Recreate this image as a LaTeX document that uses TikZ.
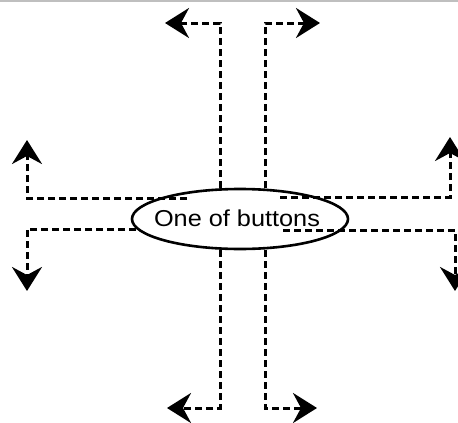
\documentclass[tikz,border=0pt]{standalone}
\usepackage{fontspec}
\setmainfont{Liberation Sans}
\usetikzlibrary{shapes.geometric,arrows.meta}
\begin{document}
\begin{tikzpicture}[x=1pt,y=-1pt,
  conn/.style={line width=3pt,dash pattern=on 7pt off 4pt,
    -{Stealth[length=24pt,width=30pt,inset=8pt]}},
  btn/.style={ellipse,draw,line width=2.6pt,minimum width=216pt,minimum height=60pt,inner sep=0pt,outer sep=0pt},
  lbl/.style={inner sep=0pt,font=\fontsize{23}{23}\selectfont}]
\useasboundingbox (0,0) rectangle (458,423);
\fill[black!25] (0,0) rectangle (458,2);
\node[btn] (b) at (240,219) {};
\node[lbl] (t) at (237,218) {\scalebox{1.1}[1]{One of buttons}};
% start points
\coordinate (tl0) at (220,188);
\coordinate (tr0) at (265,188);
\coordinate (bl0) at (220,250);
\coordinate (br0) at (265,250);
\coordinate (lu0) at (187,198);
\coordinate (ll0) at (136,229);
\coordinate (ru0) at (280,197);
\coordinate (rl0) at (283,230);
% corners
\coordinate (tl1) at (220,23);
\coordinate (tr1) at (265,23);
\coordinate (bl1) at (220,408);
\coordinate (br1) at (265,408);
\coordinate (lu1) at (27,198);
\coordinate (ll1) at (27,229);
\coordinate (ru1) at (450,197);
\coordinate (rl1) at (455,230);
% tips
\coordinate (tl2) at (165,23);
\coordinate (tr2) at (320,23);
\coordinate (bl2) at (167,408);
\coordinate (br2) at (317,408);
\coordinate (lu2) at (27,140);
\coordinate (ll2) at (27,291);
\coordinate (ru2) at (450,137);
\coordinate (rl2) at (455,291);
\foreach \n in {tl,tr,bl,br,lu,ll,ru,rl}
  \draw[conn] (\n0) -- (\n1) -- (\n2);
\end{tikzpicture}
\end{document}
